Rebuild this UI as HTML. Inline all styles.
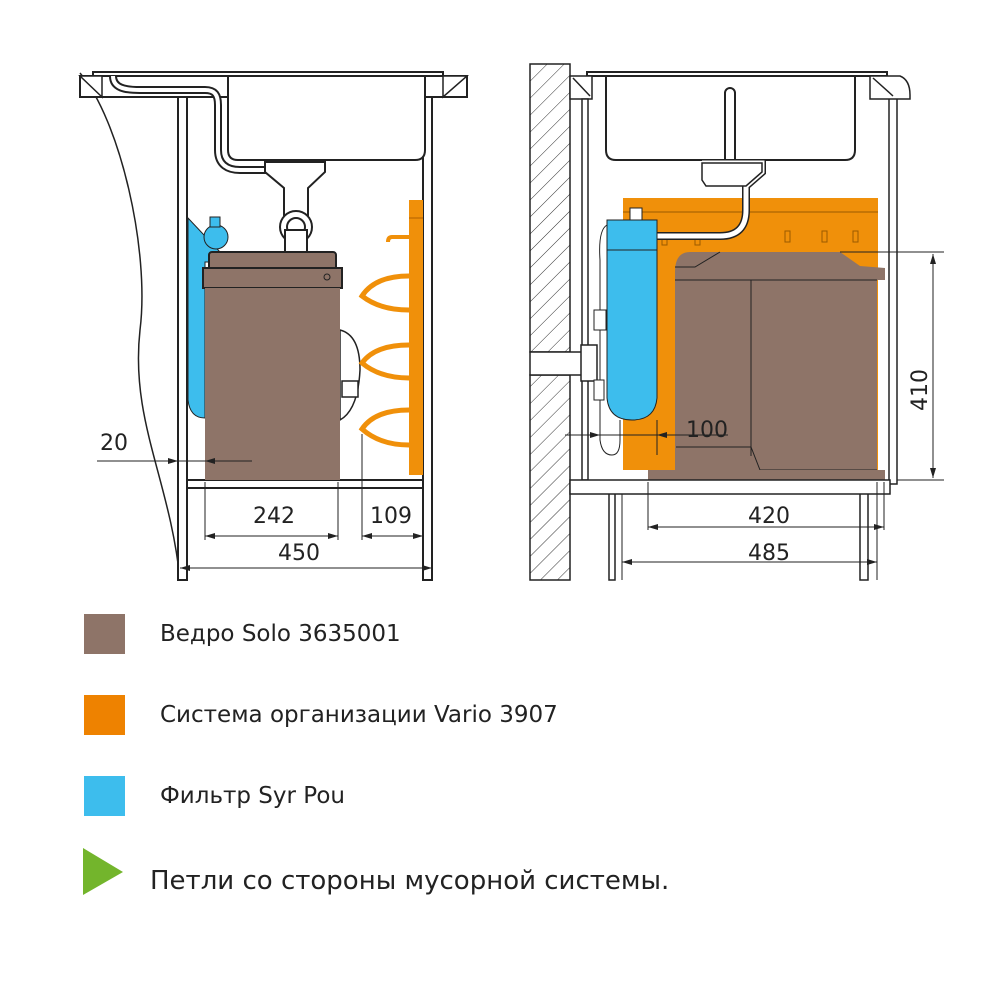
<!DOCTYPE html>
<html><head><meta charset="utf-8"><style>
html,body{margin:0;padding:0;background:#fff;}
svg{display:block;}
text{font-family:"DejaVu Sans","Liberation Sans",sans-serif;fill:#222;}
</style></head><body>
<svg width="1000" height="1000" viewBox="0 0 1000 1000" xmlns="http://www.w3.org/2000/svg">
<defs>
<pattern id="h" width="12" height="12" patternUnits="userSpaceOnUse" patternTransform="rotate(45)">
<line x1="0" y1="0" x2="0" y2="12" stroke="#333" stroke-width="1"/>
</pattern>
<marker id="a" markerWidth="10" markerHeight="6" refX="10" refY="3" orient="auto-start-reverse" markerUnits="userSpaceOnUse">
<path d="M0,0 L10,3 L0,6 z" fill="#222"/></marker>
</defs>
<g stroke="#222" stroke-width="2" fill="#fff">
<path d="M80,73 C120,120 150,250 140,330 C130,420 170,480 180,580" fill="none" stroke-width="1.5"/>
<rect x="93" y="72" width="350" height="4"/>
<rect x="80" y="76" width="387" height="21"/>
<path d="M80,76 L102,76 L102,97 Z M467,76 L443,76 L443,97 Z" stroke-width="1.5"/>
<path d="M113,76 C113,88 125,90 140,90 L205,90 C215,90 218,95 218,105 L218,150 C218,165 228,170 240,170 L300,170" fill="none" stroke-width="8" stroke="#222"/>
<path d="M113,76 C113,88 125,90 140,90 L205,90 C215,90 218,95 218,105 L218,150 C218,165 228,170 240,170 L300,170" fill="none" stroke-width="4" stroke="#fff"/>
<rect x="178" y="97" width="9" height="483"/>
<rect x="423" y="97" width="9" height="483"/>
<path d="M228,76 L425,76 L425,150 Q425,160 415,160 L238,160 Q228,160 228,150 Z"/>
<path d="M265,162 L325,162 L325,172 L308,188 L308,230 L284,230 L284,188 L265,172 Z"/>
<circle cx="296" cy="227" r="16"/>
<circle cx="296" cy="227" r="9"/>
<rect x="285" y="230" width="22" height="22"/>
<rect x="187" y="480" width="236" height="8"/>
<path d="M188,218 L188,400 Q190,418 205,418 L205,262 L243,262 L243,252 L220,252 Z" fill="#3DBDED" stroke-width="1"/>
<circle cx="216" cy="237" r="12" fill="#3DBDED" stroke-width="1"/>
<rect x="210" y="217" width="10" height="10" fill="#3DBDED" stroke-width="1"/>
<path d="M340,330 Q360,335 360,370 Q358,410 340,420 Z" stroke-width="1.5"/>
<rect x="342" y="381" width="16" height="16" stroke-width="1.5"/>
<rect x="209" y="252" width="127" height="18" rx="3" fill="#8E7468"/>
<rect x="203" y="268" width="139" height="20" fill="#8E7468"/>
<circle cx="327" cy="277" r="3" fill="none" stroke-width="1"/>
<rect x="205" y="288" width="135" height="192" fill="#8E7468" stroke="none"/>
<rect x="409" y="200" width="14" height="275" fill="#F0900A" stroke="none"/>
<line x1="409" y1="218" x2="423" y2="218" stroke="#b06000" stroke-width="1"/>
<path d="M409,237 L392,237 Q388,237 388,242" fill="none" stroke="#F0900A" stroke-width="4"/>
<g fill="none" stroke="#F0900A" stroke-width="5">
<path d="M409,276 Q375,276 362,296 Q380,310 409,310"/>
<path d="M409,345 Q375,345 362,363 Q380,378 409,378"/>
<path d="M409,410 Q375,410 362,429 Q380,445 409,445"/>
</g>
<g stroke-width="1" fill="none">
<line x1="97" y1="461" x2="252" y2="461"/>
<line x1="160" y1="461" x2="178" y2="461" marker-end="url(#a)"/>
<line x1="230" y1="461" x2="205" y2="461" marker-end="url(#a)"/>
<line x1="205" y1="482" x2="205" y2="540"/>
<line x1="338" y1="482" x2="338" y2="540"/>
<line x1="362" y1="434" x2="362" y2="540"/>
<line x1="205" y1="536" x2="338" y2="536" marker-start="url(#a)" marker-end="url(#a)"/>
<line x1="362" y1="536" x2="423" y2="536" marker-start="url(#a)" marker-end="url(#a)"/>
<line x1="180" y1="568" x2="432" y2="568" marker-start="url(#a)" marker-end="url(#a)"/>
</g>

<rect x="530" y="64" width="40" height="288" fill="url(#h)" stroke-width="1.5"/>
<rect x="530" y="375" width="40" height="205" fill="url(#h)" stroke-width="1.5"/>
<rect x="530" y="352" width="52" height="23" stroke-width="1.5"/>
<rect x="587" y="72" width="300" height="4"/>
<path d="M570,76 L592,76 L592,99 L570,99 Z M870,76 L900,76 Q910,80 910,95 L910,99 L870,99 Z" stroke-width="1.5"/>
<path d="M573,78 L590,96 M873,78 L893,96" stroke-width="1.5"/>
<rect x="582" y="99" width="6" height="381" stroke-width="1.5"/>
<path d="M889,99 L889,484 L897,484 L897,99" fill="none" stroke-width="1.5"/>
<path d="M606,76 L855,76 L855,150 Q855,160 845,160 L616,160 Q606,160 606,150 Z"/>
<rect x="725" y="88" width="10" height="80" rx="5"/>
<rect x="623" y="198" width="255" height="272" fill="#F0900A" stroke="none"/>
<line x1="623" y1="212" x2="878" y2="212" stroke="#9a5a00" stroke-width="1"/>
<g fill="none" stroke="#9a5a00" stroke-width="1">
<rect x="662" y="236" width="5" height="9"/><rect x="695" y="236" width="5" height="9"/>
<rect x="785" y="231" width="5" height="11"/><rect x="822" y="231" width="5" height="11"/><rect x="853" y="231" width="5" height="11"/>
</g>
<path d="M702,163 L762,163 L762,172 L746,186 L746,210 Q746,236 720,236 L655,236" fill="none" stroke-width="8"/>
<path d="M702,163 L762,163 L762,172 L746,186 L746,210 Q746,236 720,236 L655,236" fill="none" stroke-width="5" stroke="#fff"/>
<path d="M702,163 L762,163 L762,172 L746,186 L706,186 L702,180 Z" stroke-width="1.5"/>
<path d="M607,220 L657,220 L657,398 Q655,420 632,420 Q609,420 607,398 Z" fill="#3DBDED" stroke-width="1"/>
<line x1="607" y1="250" x2="657" y2="250" stroke-width="1"/>
<rect x="630" y="208" width="12" height="12" stroke-width="1"/>
<path d="M607,225 Q598,230 600,260 L600,440 Q602,455 612,455 Q620,455 620,440 L620,420" fill="none" stroke-width="1"/>
<rect x="581" y="345" width="16" height="36" stroke-width="1.5"/>
<rect x="594" y="310" width="12" height="20" stroke-width="1"/>
<rect x="594" y="380" width="10" height="20" stroke-width="1"/>
<path d="M675,272 Q675,252 690,252 L840,252 L860,266 L885,268 L885,280 L877,280 L877,476 L675,476 Z" fill="#8E7468" stroke="none"/>
<line x1="675" y1="280" x2="877" y2="280" stroke-width="1"/>
<line x1="751" y1="280" x2="751" y2="456" stroke-width="1"/>
<path d="M675,267 L695,267 L720,252 M676,447 L751,447 L760,470 L877,470" fill="none" stroke-width="1"/>
<rect x="648" y="470" width="237" height="10" fill="#8E7468" stroke="none"/>
<rect x="570" y="480" width="320" height="14" stroke-width="1.5"/>
<path d="M609,494 L609,580 L615,580 L615,494 M860,494 L860,580 L868,580 L868,494" fill="none" stroke-width="1.5"/>
<line x1="622" y1="494" x2="622" y2="580" stroke-width="1"/>
<g stroke-width="1" fill="none">
<line x1="565" y1="435" x2="728" y2="435"/>
<line x1="585" y1="435" x2="600" y2="435" marker-end="url(#a)"/>
<line x1="680" y1="435" x2="657" y2="435" marker-end="url(#a)"/>
<line x1="657" y1="420" x2="657" y2="455"/>
<line x1="840" y1="252" x2="944" y2="252"/>
<line x1="897" y1="480" x2="944" y2="480"/>
<line x1="933" y1="254" x2="933" y2="478" marker-start="url(#a)" marker-end="url(#a)"/>
<line x1="648" y1="482" x2="648" y2="530"/>
<line x1="884" y1="482" x2="884" y2="530"/>
<line x1="877" y1="482" x2="877" y2="580"/>
<line x1="648" y1="527" x2="884" y2="527" marker-start="url(#a)" marker-end="url(#a)"/>
<line x1="622" y1="562" x2="877" y2="562" marker-start="url(#a)" marker-end="url(#a)"/>
</g>
</g>
<g font-size="22">
<text x="100" y="450">20</text>
<text x="253" y="523">242</text>
<text x="370" y="523">109</text>
<text x="278" y="560">450</text>
<text x="686" y="437">100</text>
<text x="748" y="523">420</text>
<text x="748" y="560">485</text>
<text transform="translate(927,411) rotate(-90)" x="0" y="0">410</text>
</g>
<rect x="84" y="614" width="41" height="40" fill="#8E7468"/>
<rect x="84" y="695" width="41" height="40" fill="#EE8200"/>
<rect x="84" y="776" width="41" height="40" fill="#3DBDED"/>
<path d="M83,848 L123,872 L83,895 Z" fill="#73B52C"/>
<g font-size="23">
<text x="160" y="641">Ведро Solo 3635001</text>
<text x="160" y="722">Система организации Vario 3907</text>
<text x="160" y="803">Фильтр Syr Pou</text>
</g>
<text x="150" y="889" font-size="26">Петли со стороны мусорной системы.</text>
</svg>
</body></html>
